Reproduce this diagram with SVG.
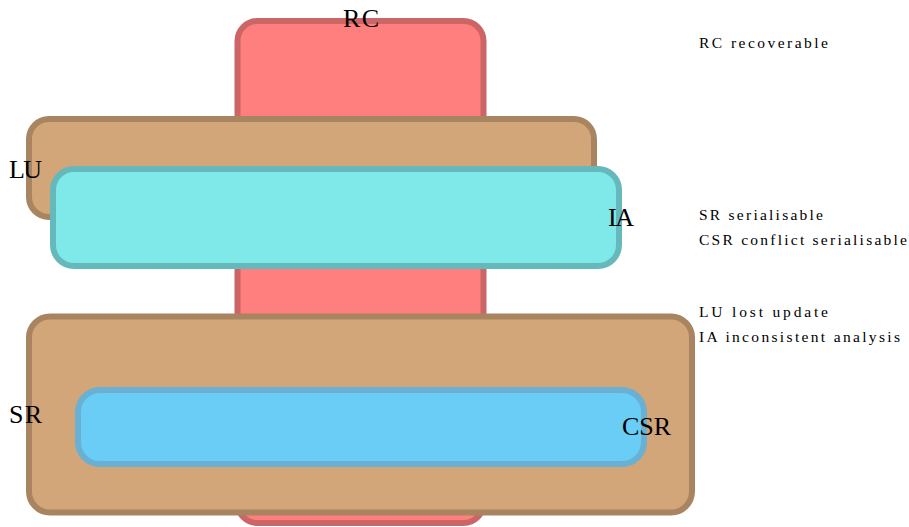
<svg xmlns="http://www.w3.org/2000/svg" width="909" height="527" viewBox="0 0 909 527">
<style>
.box{stroke-width:6}
.rc{fill:#FF7F7F;stroke:#CC6666}
.tan{fill:#D2A679;stroke:#A88560}
.ia{fill:#7FE8E8;stroke:#66B9BB}
.csr{fill:#69CDF5;stroke:#6AB0D2}
.lbl{font-family:"Liberation Serif","DejaVu Serif",serif;font-size:26px;fill:#000;text-anchor:middle}
.leg{font-family:"Liberation Serif","DejaVu Serif",serif;font-size:15.5px;fill:#000}
</style>
<rect width="909" height="527" fill="#fff"/>
<g id="RC"><rect class="box rc" x="237.5" y="21" width="246" height="502" rx="20"/></g>
<g id="LU"><rect class="box tan" x="29" y="119" width="565" height="98" rx="20"/></g>
<g id="IA"><rect class="box ia" x="53" y="169" width="566" height="97" rx="21"/></g>
<g id="SR"><rect class="box tan" x="29" y="316.5" width="663" height="196" rx="21"/></g>
<g id="CSR"><rect class="box csr" x="78" y="390" width="566" height="74" rx="22"/></g>
<g id="labels">
<text class="lbl" x="361" y="27" textLength="36">RC</text>
<text class="lbl" x="25.5" y="178" textLength="33">LU</text>
<text class="lbl" x="621" y="226" textLength="26">IA</text>
<text class="lbl" x="25.5" y="423" textLength="33">SR</text>
<text class="lbl" x="646.5" y="435" textLength="49">CSR</text>
</g>
<g id="legend">
<text class="leg" x="699" y="47.5" textLength="129">RC recoverable</text>
<text class="leg" x="699" y="220" textLength="124">SR serialisable</text>
<text class="leg" x="699" y="244.5" textLength="208">CSR conflict serialisable</text>
<text class="leg" x="699" y="317" textLength="129">LU lost update</text>
<text class="leg" x="699" y="341.5" textLength="201">IA inconsistent analysis</text>
</g>
<g id="connectors"></g>
</svg>
